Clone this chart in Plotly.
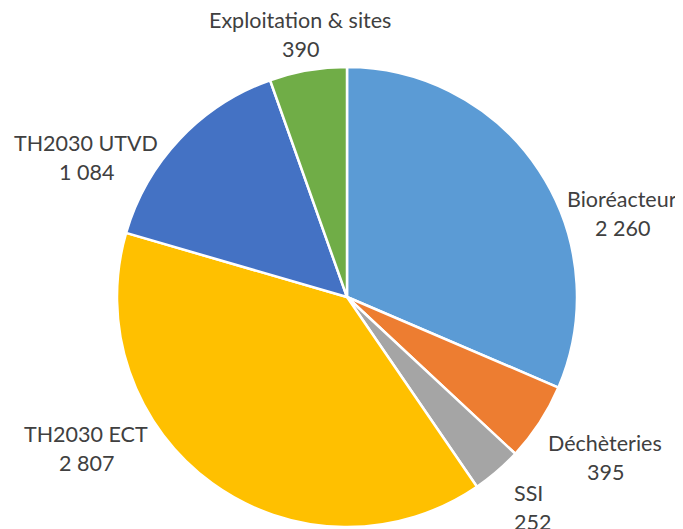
import plotly.graph_objects as go

categories = ["Bioréacteur", "Déchèteries", "SSI", "TH2030 ECT", "TH2030 UTVD", "Exploitation & sites"]
values = [2260, 395, 252, 2807, 1084, 390]
colors = ["#5B9BD5", "#ED7D31", "#A5A5A5", "#FFC000", "#4472C4", "#70AD47"]

# label anchor positions in page pixels (x, y of first line, alignment)
label_pos = {
    "Bioréacteur": (622, 199, "center"),
    "Déchèteries": (605, 443, "center"),
    "SSI": (512, 493, "left"),
    "TH2030 ECT": (86, 434, "center"),
    "TH2030 UTVD": (86, 143, "center"),
    "Exploitation & sites": (300, 20, "center"),
}
LINE_GAP = 29

W, H = 683, 529
OFF = 8  # page body margin of the html document
cx, cy, r = 347 - OFF, 297 - OFF, 230

def fmt(v):
    return f"{v:,}".replace(",", " ")

fig = go.Figure(go.Pie(
    labels=categories,
    values=values,
    marker=dict(colors=colors, line=dict(color="white", width=2.5)),
    sort=False,
    direction="clockwise",
    rotation=0,
    textinfo="none",
    hoverinfo="label+value",
    domain=dict(x=[(cx - r) / W, (cx + r) / W], y=[(H - cy - r) / H, (H - cy + r) / H]),
    showlegend=False,
))

font = dict(family="Lato, Carlito, Calibri, sans-serif", size=21.5, color="#404040")
for cat, val in zip(categories, values):
    x, y, al = label_pos[cat]
    xanchor = "center" if al == "center" else "left"
    for txt, yy in ((cat, y), (fmt(val), y + LINE_GAP)):
        fig.add_annotation(
            x=(x - OFF) / W, y=1 - (yy - OFF) / H, xref="paper", yref="paper",
            text=txt, showarrow=False, xanchor=xanchor, yanchor="middle",
            font=font,
        )

fig.update_layout(
    width=W, height=H,
    margin=dict(l=0, r=0, t=0, b=0),
    paper_bgcolor="white", plot_bgcolor="white",
)

fig.write_html("out.html")
